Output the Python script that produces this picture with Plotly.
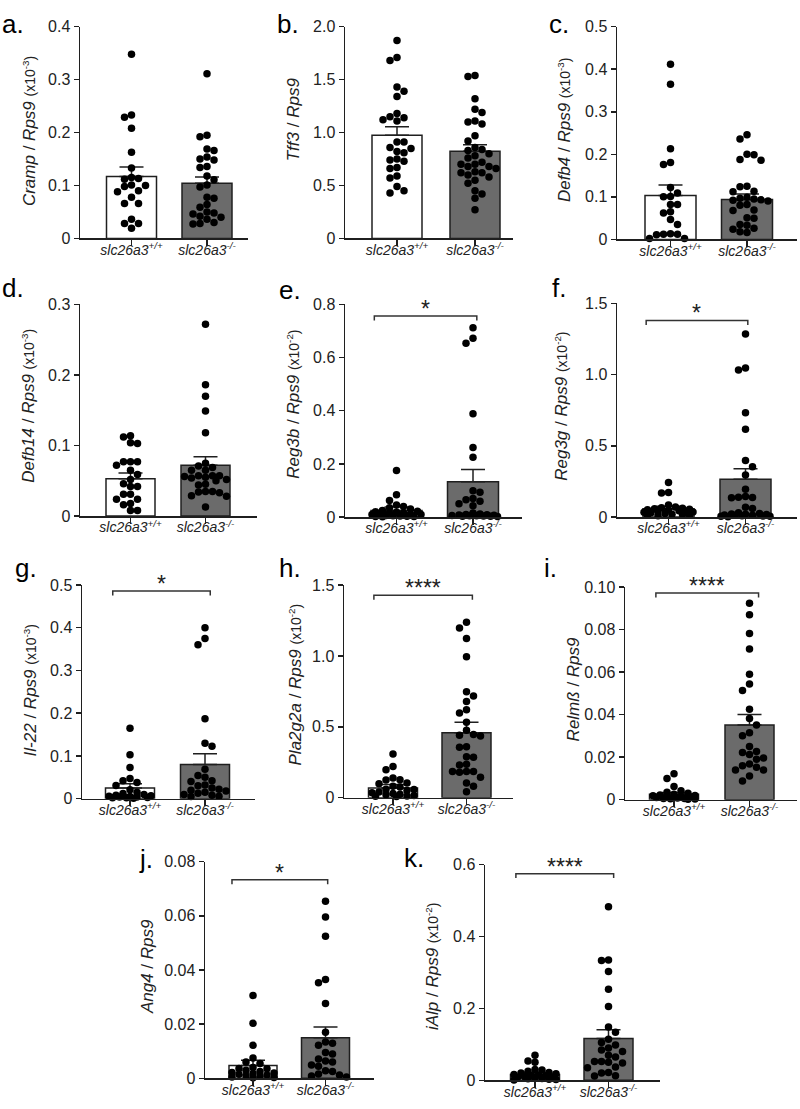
import plotly.graph_objects as go

W, H = 800, 1109
FONT = "Arial, Liberation Sans, sans-serif"

# ---------------- data ----------------
groups = ["slc26a3+/+", "slc26a3-/-"]
x_ticktext = ["<i>slc26a3<sup>+/+</sup></i>", "<i>slc26a3<sup>-/-</sup></i>"]

a_wt = [0.348, 0.233, 0.229, 0.208, 0.163, 0.133, 0.115, 0.113, 0.101, 0.100, 0.098, 0.090, 0.088, 0.078, 0.066, 0.066, 0.036, 0.028, 0.028, 0.019, 0.112]
a_ko = [0.311, 0.195, 0.192, 0.169, 0.166, 0.154, 0.150, 0.148, 0.136, 0.134, 0.118, 0.111, 0.101, 0.097, 0.078, 0.076, 0.064, 0.059, 0.050, 0.048, 0.046, 0.042, 0.036, 0.030, 0.027, 0.040, 0.028]
b_wt = [1.87, 1.71, 1.68, 1.43, 1.39, 1.34, 1.18, 1.15, 1.14, 1.12, 1.11, 0.91, 0.91, 0.86, 0.85, 0.82, 0.81, 0.74, 0.75, 0.73, 0.66, 0.67, 0.59, 0.57, 0.49, 0.45, 0.43]
b_ko = [1.54, 1.53, 1.32, 1.22, 1.19, 1.11, 1.10, 1.08, 0.97, 0.92, 0.86, 0.84, 0.83, 0.80, 0.78, 0.76, 0.72, 0.70, 0.70, 0.68, 0.66, 0.63, 0.62, 0.60, 0.58, 0.55, 0.52, 0.45, 0.42, 0.38, 0.27, 0.62, 0.68]
c_wt = [0.412, 0.365, 0.213, 0.181, 0.176, 0.122, 0.109, 0.101, 0.100, 0.082, 0.082, 0.065, 0.062, 0.047, 0.035, 0.013, 0.012, 0.012, 0.011, 0.002, 0.002]
c_ko = [0.246, 0.236, 0.200, 0.199, 0.188, 0.186, 0.125, 0.124, 0.113, 0.112, 0.099, 0.097, 0.095, 0.093, 0.092, 0.090, 0.082, 0.080, 0.069, 0.068, 0.051, 0.050, 0.035, 0.033, 0.026, 0.024, 0.016, 0.018]
d_wt = [0.114, 0.112, 0.104, 0.103, 0.077, 0.077, 0.077, 0.072, 0.065, 0.059, 0.052, 0.046, 0.042, 0.042, 0.031, 0.031, 0.024, 0.024, 0.016, 0.018, 0.008, 0.008]
d_ko = [0.272, 0.186, 0.170, 0.149, 0.118, 0.075, 0.071, 0.069, 0.065, 0.065, 0.057, 0.057, 0.057, 0.056, 0.055, 0.054, 0.052, 0.050, 0.045, 0.044, 0.035, 0.035, 0.034, 0.033, 0.029, 0.028, 0.013]
e_wt = [0.175, 0.084, 0.062, 0.045, 0.040, 0.035, 0.030, 0.025, 0.022, 0.020, 0.018, 0.015, 0.015, 0.012, 0.010, 0.010, 0.008, 0.006, 0.005, 0.004, 0.003, 0.002, 0.002, 0.001]
e_ko = [0.712, 0.673, 0.654, 0.389, 0.262, 0.225, 0.099, 0.093, 0.070, 0.065, 0.060, 0.050, 0.043, 0.015, 0.012, 0.010, 0.009, 0.008, 0.007, 0.006, 0.005, 0.005, 0.004, 0.003, 0.003, 0.002]
f_wt = [0.242, 0.173, 0.169, 0.085, 0.070, 0.065, 0.062, 0.058, 0.055, 0.052, 0.050, 0.045, 0.042, 0.040, 0.035, 0.033, 0.030, 0.025, 0.020, 0.018, 0.015, 0.012, 0.010]
f_ko = [1.286, 1.046, 1.032, 0.732, 0.617, 0.397, 0.353, 0.296, 0.196, 0.145, 0.140, 0.138, 0.135, 0.069, 0.060, 0.030, 0.025, 0.022, 0.020, 0.018, 0.015, 0.013, 0.012, 0.010, 0.008, 0.006, 0.005, 0.003]
g_wt = [0.165, 0.103, 0.073, 0.047, 0.042, 0.038, 0.031, 0.021, 0.015, 0.012, 0.010, 0.008, 0.007, 0.006, 0.005, 0.004, 0.004, 0.003, 0.002, 0.002, 0.001]
g_ko = [0.400, 0.375, 0.360, 0.187, 0.130, 0.123, 0.069, 0.054, 0.050, 0.042, 0.040, 0.032, 0.030, 0.025, 0.022, 0.020, 0.018, 0.015, 0.013, 0.010, 0.008, 0.006, 0.005]
h_wt = [0.308, 0.220, 0.197, 0.139, 0.127, 0.125, 0.104, 0.098, 0.081, 0.075, 0.060, 0.058, 0.050, 0.040, 0.035, 0.030, 0.025, 0.020, 0.015, 0.012, 0.010, 0.008]
h_ko = [1.238, 1.197, 1.123, 0.995, 0.748, 0.718, 0.678, 0.620, 0.597, 0.532, 0.475, 0.445, 0.440, 0.435, 0.359, 0.355, 0.289, 0.285, 0.236, 0.230, 0.185, 0.185, 0.185, 0.180, 0.144, 0.104, 0.081, 0.042]
i_wt = [0.0122, 0.0100, 0.0062, 0.0042, 0.0035, 0.0030, 0.0025, 0.0022, 0.0020, 0.0018, 0.0016, 0.0014, 0.0012, 0.0010, 0.0008, 0.0006, 0.0005, 0.0004, 0.0003, 0.0002]
i_ko = [0.0923, 0.0869, 0.0781, 0.0709, 0.0590, 0.0544, 0.0513, 0.0425, 0.0382, 0.0351, 0.0315, 0.0301, 0.0250, 0.0227, 0.0222, 0.0212, 0.0196, 0.0190, 0.0168, 0.0160, 0.0153, 0.0140, 0.0139, 0.0111, 0.0088]
j_wt = [0.0306, 0.0203, 0.0122, 0.0075, 0.0060, 0.0055, 0.0040, 0.0036, 0.0035, 0.0030, 0.0025, 0.0022, 0.0020, 0.0018, 0.0015, 0.0012, 0.0010, 0.0008, 0.0005, 0.0003, 0.0002]
j_ko = [0.0654, 0.0596, 0.0525, 0.0365, 0.0353, 0.0276, 0.0170, 0.0134, 0.0130, 0.0122, 0.0095, 0.0090, 0.0071, 0.0064, 0.0060, 0.0049, 0.0045, 0.0028, 0.0025, 0.0016, 0.0012, 0.0009, 0.0005]
k_wt = [0.070, 0.054, 0.050, 0.030, 0.029, 0.025, 0.022, 0.020, 0.018, 0.016, 0.015, 0.013, 0.012, 0.010, 0.009, 0.008, 0.006, 0.005, 0.004, 0.003, 0.002, 0.001]
k_ko = [0.483, 0.335, 0.333, 0.303, 0.253, 0.205, 0.148, 0.134, 0.114, 0.105, 0.098, 0.090, 0.084, 0.080, 0.070, 0.065, 0.052, 0.052, 0.050, 0.048, 0.037, 0.035, 0.022, 0.020, 0.013, 0.012]

# bar heights (mean) and SEM
a_mean, a_sem = [0.117, 0.104], [0.018, 0.012]
b_mean, b_sem = [0.975, 0.823], [0.081, 0.062]
c_mean, c_sem = [0.103, 0.094], [0.025, 0.013]
d_mean, d_sem = [0.053, 0.072], [0.008, 0.012]
e_mean, e_sem = [0.025, 0.133], [0.013, 0.046]
f_mean, f_sem = [0.058, 0.266], [0.018, 0.073]
g_mean, g_sem = [0.025, 0.080], [0.010, 0.025]
h_mean, h_sem = [0.069, 0.458], [0.024, 0.074]
i_mean, i_sem = [0.0026, 0.0351], [0.0008, 0.0049]
j_mean, j_sem = [0.0047, 0.0150], [0.0020, 0.0040]
k_mean, k_sem = [0.016, 0.116], [0.006, 0.025]

# y-axis ticks
a_ticks, a_labels = [0, 0.1, 0.2, 0.3, 0.4], ["0", "0.1", "0.2", "0.3", "0.4"]
b_ticks, b_labels = [0, 0.5, 1.0, 1.5, 2.0], ["0", "0.5", "1.0", "1.5", "2.0"]
c_ticks, c_labels = [0, 0.1, 0.2, 0.3, 0.4, 0.5], ["0", "0.1", "0.2", "0.3", "0.4", "0.5"]
d_ticks, d_labels = [0, 0.1, 0.2, 0.3], ["0", "0.1", "0.2", "0.3"]
e_ticks, e_labels = [0, 0.2, 0.4, 0.6, 0.8], ["0", "0.2", "0.4", "0.6", "0.8"]
f_ticks, f_labels = [0, 0.5, 1.0, 1.5], ["0", "0.5", "1.0", "1.5"]
g_ticks, g_labels = [0, 0.1, 0.2, 0.3, 0.4, 0.5], ["0", "0.1", "0.2", "0.3", "0.4", "0.5"]
h_ticks, h_labels = [0, 0.5, 1.0, 1.5], ["0", "0.5", "1.0", "1.5"]
i_ticks, i_labels = [0, 0.02, 0.04, 0.06, 0.08, 0.10], ["0", "0.02", "0.04", "0.06", "0.08", "0.10"]
j_ticks, j_labels = [0, 0.02, 0.04, 0.06, 0.08], ["0", "0.02", "0.04", "0.06", "0.08"]
k_ticks, k_labels = [0, 0.2, 0.4, 0.6], ["0", "0.2", "0.4", "0.6"]

SUP = "<span style='font-size:14px'>(x10<sup>%s</sup>)</span>"
y_titles = {
    "a": "<i>Cramp</i> / <i>Rps9</i> " + SUP % "-3",
    "b": "<i>Tff3</i> / <i>Rps9</i>",
    "c": "<i>Defb4</i> / <i>Rps9</i> " + SUP % "-3",
    "d": "<i>Defb14</i> / <i>Rps9</i> " + SUP % "-3",
    "e": "<i>Reg3b</i> / <i>Rps9</i> " + SUP % "-2",
    "f": "<i>Reg3g</i> / <i>Rps9</i> " + SUP % "-2",
    "g": "<i>Il-22</i> / <i>Rps9</i> " + SUP % "-3",
    "h": "<i>Pla2g2a</i> / <i>Rps9</i> " + SUP % "-2",
    "i": "<i>Relmß</i> / <i>Rps9</i>",
    "j": "<i>Ang4</i> / <i>Rps9</i>",
    "k": "<i>iAlp</i> / <i>Rps9</i> " + SUP % "-2",
}

# significance: (stars, bracket level)
sig = {
    "e": ("*", 0.756), "f": ("*", 1.38), "g": ("*", 0.486), "h": ("****", 1.428),
    "i": ("****", 0.0972), "j": ("*", 0.0733), "k": ("****", 0.575),
}

data = {
    "a": (a_wt, a_ko, a_mean, a_sem, a_ticks, a_labels),
    "b": (b_wt, b_ko, b_mean, b_sem, b_ticks, b_labels),
    "c": (c_wt, c_ko, c_mean, c_sem, c_ticks, c_labels),
    "d": (d_wt, d_ko, d_mean, d_sem, d_ticks, d_labels),
    "e": (e_wt, e_ko, e_mean, e_sem, e_ticks, e_labels),
    "f": (f_wt, f_ko, f_mean, f_sem, f_ticks, f_labels),
    "g": (g_wt, g_ko, g_mean, g_sem, g_ticks, g_labels),
    "h": (h_wt, h_ko, h_mean, h_sem, h_ticks, h_labels),
    "i": (i_wt, i_ko, i_mean, i_sem, i_ticks, i_labels),
    "j": (j_wt, j_ko, j_mean, j_sem, j_ticks, j_labels),
    "k": (k_wt, k_ko, k_mean, k_sem, k_ticks, k_labels),
}

# ---------------- layout geometry (pixels) ----------------
panels = [
    dict(key="a", L=80, R=248, c0=131.5, c1=207, bw=50, top=19, zero=234, lab=(0, 25), tit=(29, 125), br=(-0.27, 1.05)),
    dict(key="b", L=345, R=513, c0=397, c1=475, bw=50, top=19, zero=234, lab=(275, 25), tit=(293, 113), br=(-0.27, 1.05)),
    dict(key="c", L=617, R=797, c0=670.5, c1=747, bw=51, top=19, zero=235, lab=(547, 25), tit=(564, 124), br=(-0.27, 1.05)),
    dict(key="d", L=80, R=257, c0=130.5, c1=205.5, bw=49, top=301, zero=516, lab=(0, 293), tit=(29, 404), br=(-0.27, 1.05)),
    dict(key="e", L=345, R=522, c0=396.5, c1=473, bw=51, top=301, zero=517, lab=(277, 295), tit=(294, 403), br=(-0.29, 1.05)),
    dict(key="f", L=617, R=797, c0=668.5, c1=745.5, bw=51, top=300, zero=517, lab=(550, 293), tit=(562, 405), br=(-0.29, 1.03)),
    dict(key="g", L=82, R=255, c0=130, c1=205, bw=49, top=586, zero=803, lab=(13, 578), tit=(30, 693), br=(-0.23, 1.07)),
    dict(key="h", L=344, R=513, c0=393, c1=466.5, bw=49, top=586, zero=802, lab=(277, 578), tit=(295, 687), br=(-0.26, 1.08)),
    dict(key="i", L=625, R=797, c0=674, c1=749.5, bw=49, top=588, zero=804, lab=(542, 578), tit=(573, 692), br=(-0.24, 1.12)),
    dict(key="j", L=205, R=374, c0=253, c1=325.5, bw=48, top=867, zero=1087, lab=(137, 873), tit=(147, 974), br=(-0.29, 1.03)),
    dict(key="k", L=485, R=660, c0=535, c1=608.5, bw=49, top=870, zero=1089, lab=(402, 872), tit=(432, 973), br=(-0.26, 1.07)),
]


def swarm(vals, ppu, maxhalf, dot=7.0, step=7.0):
    """Deterministic beeswarm limited to +-maxhalf px; overlaps allowed when crowded."""
    order = sorted(range(len(vals)), key=lambda i: -vals[i])
    placed, off = [], [0.0] * len(vals)
    nl = nr = 0
    kmax = int(maxhalf // step)
    for i in order:
        y = vals[i] * ppu
        chosen = None
        for k in range(0, kmax + 1):
            if k == 0:
                cands = [0.0]
            else:
                cands = [-k * step, k * step] if nl <= nr else [k * step, -k * step]
            for cx in cands:
                if all((cx - a) ** 2 + (y - b) ** 2 >= dot * dot for a, b in placed):
                    chosen = cx
                    break
            if chosen is not None:
                break
        if chosen is None:
            best, bestd = 0.0, -1
            fine = step / 2.0
            m = int(maxhalf // fine)
            for q in range(-m, m + 1):
                cx = q * fine
                dmin = min(((cx - a) ** 2 + (y - b) ** 2 for a, b in placed), default=1e9)
                if dmin > bestd:
                    best, bestd = cx, dmin
            chosen = best
        if chosen < 0:
            nl += 1
        elif chosen > 0:
            nr += 1
        placed.append((chosen, y))
        off[i] = chosen
    return off


fig = go.Figure()
annotations = []
AX = "#1f1f1f"

for n, p in enumerate(panels, start=1):
    key = p["key"]
    wt, ko, mean, sem, ticks, labels = data[key]
    xs = "" if n == 1 else str(n)
    xa, ya = "x" + xs, "y" + xs
    span = p["c1"] - p["c0"]
    ymax = ticks[-1]
    ppu = (p["zero"] - p["top"]) / ymax
    xr = [(p["L"] - p["c0"]) / span, 1 + (p["R"] - p["c1"]) / span]

    fig.add_trace(go.Bar(
        x=[0, 1], y=mean, width=p["bw"] / span, xaxis=xa, yaxis=ya,
        marker=dict(color=["white", "#6b6b6b"], line=dict(color=AX, width=1.5)),
        error_y=dict(type="data", array=sem, arrayminus=[0, 0], symmetric=False,
                     color=AX, thickness=1.5, width=12),
        cliponaxis=False, showlegend=False, hoverinfo="skip"))

    for gi, vals in enumerate([wt, ko]):
        offs = swarm(vals, ppu, maxhalf=p["bw"] / 2 - 1)
        fig.add_trace(go.Scatter(
            x=[gi + o / span for o in offs], y=vals, mode="markers", xaxis=xa, yaxis=ya,
            marker=dict(color="black", size=7.5, line=dict(width=0)),
            cliponaxis=False, showlegend=False, hoverinfo="skip"))

    if key in sig:
        stars, lvl = sig[key]
        x0, x1 = p["br"]
        tick = 4.5 / ppu
        fig.add_trace(go.Scatter(
            x=[x0, x0, x1, x1], y=[lvl - tick, lvl, lvl, lvl - tick], mode="lines",
            xaxis=xa, yaxis=ya, line=dict(color="#333333", width=1.5),
            cliponaxis=False, showlegend=False, hoverinfo="skip"))
        annotations.append(dict(
            text=stars, x=(x0 + x1) / 2, y=lvl, xref=xa, yref=ya, xanchor="center",
            yanchor="bottom", yshift=-8, showarrow=False,
            font=dict(family=FONT, size=23, color="#222222")))

    fig.update_layout(**{
        ("xaxis" + xs): dict(
            domain=[p["L"] / W, p["R"] / W], anchor=ya, range=xr,
            tickvals=[0, 1], ticktext=x_ticktext, ticks="outside", ticklen=6,
            tickwidth=1.5, tickcolor=AX, showline=True, linecolor=AX, linewidth=1.5,
            showgrid=False, zeroline=False, fixedrange=True, ticklabelstandoff=-8,
            tickfont=dict(family=FONT, size=14, color="#222222")),
        ("yaxis" + xs): dict(
            domain=[1 - p["zero"] / H, 1 - p["top"] / H], anchor=xa, range=[0, ymax],
            tickvals=ticks, ticktext=labels, ticks="outside", ticklen=5,
            tickwidth=1.5, tickcolor=AX, showline=True, linecolor=AX, linewidth=1.5,
            showgrid=False, zeroline=False, fixedrange=True,
            tickfont=dict(family=FONT, size=16, color="#222222")),
    })

    # panel letter
    lx, ly = p["lab"]
    annotations.append(dict(
        text=key + ".", x=lx / W, y=1 - (ly - 9) / H, xref="paper", yref="paper",
        xanchor="left", yanchor="middle", showarrow=False,
        font=dict(family=FONT, size=26, color="black")))
    # y-axis title
    tx, ty = p["tit"]
    annotations.append(dict(
        text=y_titles[key], x=tx / W, y=1 - ty / H, xref="paper", yref="paper",
        xanchor="center", yanchor="middle", textangle=-90, showarrow=False,
        font=dict(family=FONT, size=17, color="#222222")))

fig.update_layout(
    width=W, height=H, margin=dict(l=0, r=0, t=0, b=0),
    paper_bgcolor="white", plot_bgcolor="white", showlegend=False,
    annotations=annotations, bargap=0)

fig.write_html("out.html", config={"displayModeBar": False, "staticPlot": True},
               post_script="document.body.style.margin='0';document.body.style.overflow='hidden';")
